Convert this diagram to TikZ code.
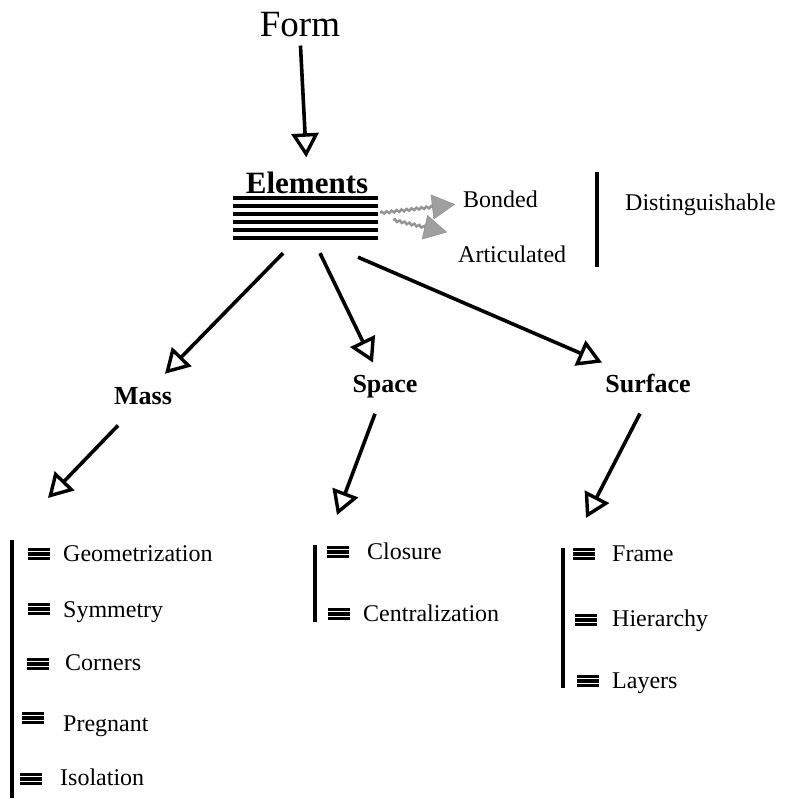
\documentclass[tikz,border=0pt]{standalone}
\usepackage{fontspec}
\setmainfont{Liberation Serif}
\usetikzlibrary{arrows.meta,decorations.pathmorphing}

\tikzset{
  lbl/.style={inner sep=0pt, font=\fontsize{24}{28}\selectfont},
  item/.style={inner sep=0pt, font=\fontsize{24}{28}\selectfont},
  branch/.style={inner sep=0pt, font=\fontsize{26}{30}\selectfont\bfseries},
  openarrow/.style={line width=3.6pt, -{Triangle[open, length=24pt, width=27pt, line width=3.4pt]}},
  greyarrow/.style={draw=gray!85, line width=2.4pt, decorate,
    decoration={snake, amplitude=1.1pt, segment length=5pt, post length=3pt},
    -{Triangle[length=23pt, width=25pt, fill=gray!75, color=gray!85, line width=.6pt]}},
  bar/.style={line width=3.2pt},
  tribar/.pic={\draw[line width=3.4pt] (0,-4.6)--(22,-4.6) (0,0)--(22,0) (0,4.6)--(22,4.6);}
}

\begin{document}
\begin{tikzpicture}[x=1pt, y=-1pt]
\path[use as bounding box] (0,0) rectangle (799,798);

% title and element stack
\node[inner sep=0pt, anchor=base, font=\fontsize{37}{42}\selectfont] (form) at (300,36) {Form};
\node[inner sep=0pt, anchor=base, font=\fontsize{31}{36}\selectfont\bfseries] (elements) at (307,193) {Elements};
\node[minimum width=145pt, minimum height=44pt, inner sep=0pt] (stack) at (305.5,218) {};
\foreach \yy in {198,206,214,222,230,238}
  \draw[line width=3.4pt] (233,\yy) -- (378,\yy);

% elements qualities
\node[lbl, anchor=base west] (bonded) at (463,207) {Bonded};
\node[lbl, anchor=base west] (artic) at (458,262) {Articulated};
\coordinate (dtop) at (597,172);
\coordinate (dbot) at (597,267);
\draw[bar] (dtop) -- (dbot);
\node[lbl, anchor=base west] (disting) at (625,210) {Distinguishable};

% three branches
\node[branch, anchor=base] (mass) at (143,404) {Mass};
\node[branch, anchor=base] (space) at (385,392) {Space};
\node[branch, anchor=base] (surface) at (648,392) {Surface};

% arrows
\draw[openarrow, shorten <=9pt, shorten >=14pt] (form.south) -- (elements.north);
\draw[greyarrow] ([shift={(2,-5)}]stack.east) -- ([shift={(-8,5.5)}]bonded.west);
\draw[greyarrow] ([shift={(15,2)}]stack.east) -- ([shift={(-11,-21.5)}]artic.west);
\draw[openarrow] ([shift={(-22.5,13)}]stack.south) -- ([shift={(22,-13)}]mass.north);
\draw[openarrow] ([shift={(14.5,13)}]stack.south) -- ([shift={(-12,-12)}]space.north);
\draw[openarrow] ([shift={(52.5,17)}]stack.south) -- ([shift={(-46,-11)}]surface.north);

% list bars
\coordinate (mlist) at (12,540);
\coordinate (mend) at (12,798);
\coordinate (slist) at (315,545);
\coordinate (send) at (315,622);
\coordinate (flist) at (563,548);
\coordinate (fend) at (563,688);
\draw[bar] (mlist) -- (mend);
\draw[bar] (slist) -- (send);
\draw[bar] (flist) -- (fend);

\draw[openarrow] ([shift={(-25,21)}]mass.south) -- ([shift={(36,-42)}]mlist);
\draw[openarrow] ([shift={(-10,16)}]space.south) -- ([shift={(22,-30)}]slist);
\draw[openarrow] ([shift={(-8,21)}]surface.south) -- ([shift={(23,-30)}]flist);

% mass list
\pic at (28,554) {tribar};
\node[item, anchor=base west] (geo) at (63,561) {Geometrization};
\pic at (28,609) {tribar};
\node[item, anchor=base west] (sym) at (63,617) {Symmetry};
\pic at (27,664) {tribar};
\node[item, anchor=base west] (corn) at (65,670) {Corners};
\pic at (22,718) {tribar};
\node[item, anchor=base west] (preg) at (63,731) {Pregnant};
\pic at (20,779) {tribar};
\node[item, anchor=base west] (iso) at (60,785) {Isolation};

% space list
\pic at (327,552) {tribar};
\node[item, anchor=base west] (clos) at (367,559) {Closure};
\pic at (328,614) {tribar};
\node[item, anchor=base west] (centr) at (363,621) {Centralization};

% surface list
\pic at (573,554) {tribar};
\node[item, anchor=base west] (frame) at (612,561) {Frame};
\pic at (575,620) {tribar};
\node[item, anchor=base west] (hier) at (612,626) {Hierarchy};
\pic at (577,681) {tribar};
\node[item, anchor=base west] (lay) at (612,688) {Layers};
\end{tikzpicture}
\end{document}
